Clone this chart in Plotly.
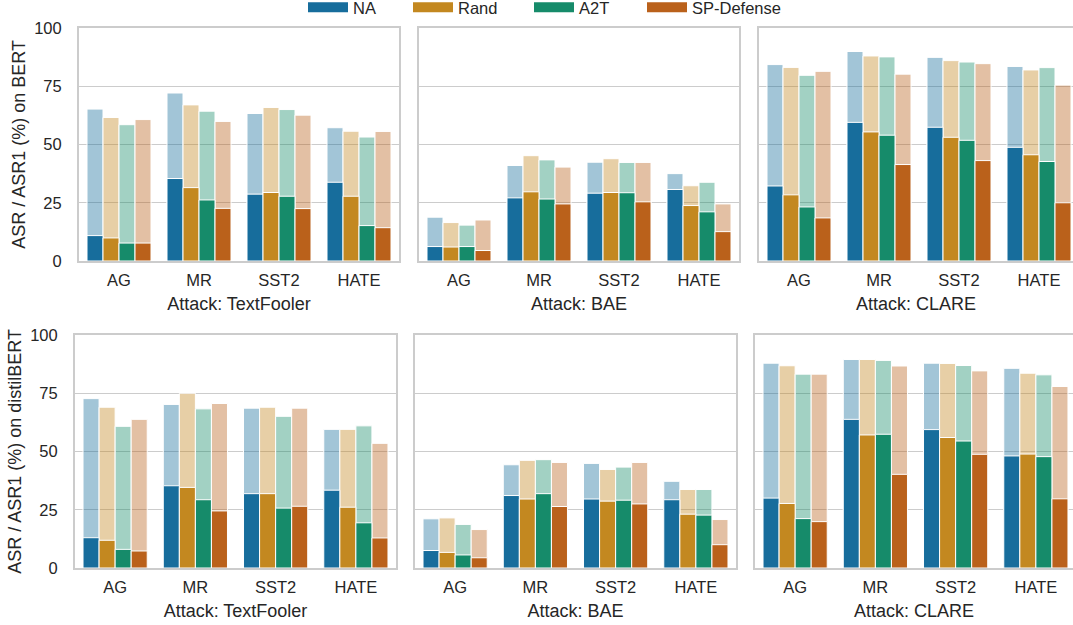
import plotly.graph_objects as go

categories = ["AG", "MR", "SST2", "HATE"]
methods = ["NA", "Rand", "A2T", "SP-Defense"]
attacks = ["TextFooler", "BAE", "CLARE"]
models = ["BERT", "distilBERT"]

# ASR (light, taller) and ASR1 (dark) — rows: methods, cols: categories
bert_textfooler_asr = [[65.2, 72.1, 63.3, 57.2], [61.6, 67.0, 65.9, 55.7], [58.5, 64.3, 65.0, 53.2], [60.7, 59.9, 62.6, 55.6]]
bert_textfooler_asr1 = [[10.9, 35.4, 28.7, 33.8], [9.9, 31.5, 29.4, 27.8], [7.7, 26.2, 27.8, 15.2], [7.7, 22.6, 22.5, 14.3]]
bert_bae_asr = [[18.8, 41.0, 42.4, 37.5], [16.5, 45.2, 43.9, 32.3], [15.4, 43.4, 42.3, 33.8], [17.6, 40.3, 42.3, 24.5]]
bert_bae_asr1 = [[6.2, 27.1, 29.1, 30.7], [6.0, 29.7, 29.4, 23.8], [6.2, 26.6, 29.3, 21.1], [4.5, 24.5, 25.4, 12.6]]
bert_clare_asr = [[84.3, 89.9, 87.4, 83.5], [83.1, 88.0, 86.0, 82.0], [79.7, 87.6, 85.4, 83.0], [81.4, 80.2, 84.7, 75.5]]
bert_clare_asr1 = [[32.2, 59.5, 57.4, 48.8], [28.4, 55.4, 53.1, 45.6], [23.2, 54.0, 51.8, 42.7], [18.5, 41.4, 43.1, 25.0]]

distil_textfooler_asr = [[72.7, 70.2, 68.6, 59.5], [69.0, 75.0, 69.0, 59.5], [60.8, 68.3, 65.1, 61.0], [63.8, 70.6, 68.6, 53.5]]
distil_textfooler_asr1 = [[13.0, 35.3, 31.9, 33.4], [11.9, 34.6, 31.9, 26.1], [8.0, 29.3, 25.7, 19.4], [7.3, 24.5, 26.5, 12.9]]
distil_bae_asr = [[21.1, 44.3, 44.9, 37.2], [21.5, 46.2, 42.3, 33.7], [18.7, 46.5, 43.3, 33.7], [16.5, 45.3, 45.3, 20.8]]
distil_bae_asr1 = [[7.5, 31.1, 29.6, 29.3], [6.7, 29.6, 28.7, 23.1], [5.6, 31.9, 29.1, 22.7], [4.4, 26.4, 27.5, 10.0]]
distil_clare_asr = [[87.9, 89.5, 87.9, 85.7], [86.8, 89.5, 87.8, 83.6], [83.2, 89.1, 86.9, 82.9], [83.2, 86.7, 84.6, 77.9]]
distil_clare_asr1 = [[30.0, 63.8, 59.4, 48.1], [27.7, 57.1, 56.0, 48.9], [21.2, 57.4, 54.5, 47.8], [19.9, 40.2, 48.8, 29.7]]

y_ticks = [0, 25, 50, 75, 100]

panels = [
    [(bert_textfooler_asr, bert_textfooler_asr1), (bert_bae_asr, bert_bae_asr1), (bert_clare_asr, bert_clare_asr1)],
    [(distil_textfooler_asr, distil_textfooler_asr1), (distil_bae_asr, distil_bae_asr1), (distil_clare_asr, distil_clare_asr1)],
]

dark_rgb = [(23, 109, 156), (195, 136, 32), (22, 139, 106), (186, 97, 27)]

W, H = 1073, 625
# pixel layout of panels
row_x = [
    [(79, 399), (419, 739), (759, 1073)],
    [(75, 396), (415, 736), (755, 1073)],
]
row_y = [(28, 261), (335, 568)]
unit_px = [80.0, 80.25]
legend_left_px = [308, 413, 534, 647]

TEXT = "#262626"
FRAME = "#cccccc"
FONT = "Liberation Sans, Arial, sans-serif"

fig = go.Figure()
layout = {}

for r in range(2):
    for c in range(3):
        p = r * 3 + c + 1
        xa = "x" if p == 1 else f"x{p}"
        ya = "y" if p == 1 else f"y{p}"
        asr, asr1 = panels[r][c]
        for j, m in enumerate(methods):
            rr, gg, bb = dark_rgb[j]
            fig.add_trace(go.Bar(
                x=categories, y=asr[j], xaxis=xa, yaxis=ya,
                width=0.2, offset=-0.4 + 0.2 * j,
                marker=dict(color=f"rgba({rr},{gg},{bb},0.4)", line=dict(color="white", width=1)),
                showlegend=False, hoverinfo="skip",
            ))
        for j, m in enumerate(methods):
            rr, gg, bb = dark_rgb[j]
            fig.add_trace(go.Bar(
                x=categories, y=asr1[j], xaxis=xa, yaxis=ya,
                width=0.2, offset=-0.4 + 0.2 * j,
                marker=dict(color=f"rgb({rr},{gg},{bb})", line=dict(color="white", width=1)),
                showlegend=False, hoverinfo="skip",
            ))
        x0, x1 = row_x[r][c]
        y0, y1 = row_y[r]
        xrange_end = -0.5 + (x1 - x0) / unit_px[r]
        xkey = "xaxis" if p == 1 else f"xaxis{p}"
        ykey = "yaxis" if p == 1 else f"yaxis{p}"
        layout[xkey] = dict(
            domain=[x0 / W, x1 / W], anchor=ya, type="category",
            range=[-0.5, xrange_end], showgrid=False, zeroline=False,
            showline=True, mirror=True, linecolor=FRAME, linewidth=2,
            ticks="outside", ticklen=3, tickcolor="rgba(0,0,0,0)",
            tickfont=dict(size=16.5, color=TEXT, family=FONT),
            title=dict(text=f"Attack: {attacks[c]}", font=dict(size=18, color=TEXT, family=FONT), standoff=10),
        )
        layout[ykey] = dict(
            domain=[1 - y1 / H, 1 - y0 / H], anchor=xa,
            range=[0, 100], tickvals=y_ticks, showgrid=True, gridcolor=FRAME, gridwidth=1,
            zeroline=False, showline=True, mirror=(c != 2), linecolor=FRAME, linewidth=2,
            ticks="outside", ticklen=12, tickcolor="rgba(0,0,0,0)",
            showticklabels=(c == 0),
            tickfont=dict(size=16.5, color=TEXT, family=FONT),
            title=dict(text=f"ASR / ASR1 (%) on {models[r]}" if c == 0 else "",
                       font=dict(size=18, color=TEXT, family=FONT), standoff=4),
        )

for j, m in enumerate(methods):
    rr, gg, bb = dark_rgb[j]
    lname = "legend" if j == 0 else f"legend{j + 1}"
    fig.add_trace(go.Scatter(x=[None], y=[None], mode="lines", name=m,
                             line=dict(color=f"rgb({rr},{gg},{bb})", width=10),
                             showlegend=True, legend=lname))
    layout[lname] = dict(
        orientation="h", x=(legend_left_px[j] - 5) / W, xanchor="left",
        y=1.016, yanchor="top", itemwidth=40,
        font=dict(size=16.5, color=TEXT, family=FONT), bgcolor="rgba(0,0,0,0)",
    )

fig.update_layout(
    **layout,
    width=W, height=H,
    barmode="overlay",
    plot_bgcolor="white", paper_bgcolor="white",
    margin=dict(l=0, r=0, t=0, b=0, autoexpand=False),
    font=dict(family=FONT, color=TEXT, size=16.5),
)

fig.write_html(
    "out.html",
    config={"displayModeBar": False},
    post_script="document.body.style.margin='0';document.body.style.overflow='hidden';",
)
